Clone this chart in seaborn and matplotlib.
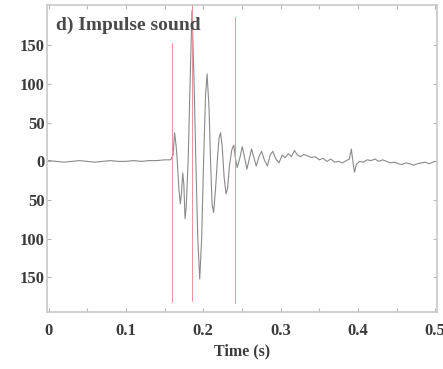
import matplotlib
matplotlib.use("Agg")
import matplotlib.pyplot as plt
import seaborn as sns
import pandas as pd
import numpy as np

# waveform key points
time_s = [0.0, 0.01, 0.02, 0.03, 0.04, 0.05, 0.06, 0.07, 0.08, 0.09, 0.10, 0.11, 0.12,
          0.13, 0.14, 0.15, 0.158, 0.161, 0.163, 0.165, 0.1665, 0.1685, 0.1705, 0.172,
          0.1735, 0.175, 0.1765, 0.178, 0.1805, 0.183, 0.1855, 0.188, 0.1905, 0.193,
          0.1955, 0.198, 0.2005, 0.203, 0.205, 0.2075, 0.2095, 0.2115, 0.2135, 0.216,
          0.2185, 0.2205, 0.2225, 0.2245, 0.227, 0.2295, 0.2315, 0.234, 0.237, 0.2395,
          0.2415, 0.244, 0.2475, 0.2505, 0.2535, 0.2565, 0.2595, 0.2625, 0.2655, 0.2685,
          0.272, 0.2755, 0.279, 0.283, 0.2865, 0.29, 0.294, 0.298, 0.302, 0.306, 0.31,
          0.314, 0.318, 0.322, 0.326, 0.33, 0.335, 0.34, 0.345, 0.35, 0.355, 0.36, 0.365,
          0.37, 0.375, 0.38, 0.385, 0.389, 0.3915, 0.3935, 0.3955, 0.398, 0.402, 0.407,
          0.412, 0.417, 0.422, 0.427, 0.432, 0.437, 0.442, 0.447, 0.452, 0.457, 0.462,
          0.467, 0.472, 0.477, 0.482, 0.487, 0.492, 0.497, 0.5]
amplitude = [1, 0, -1, 0, 1, 0, -1, 0, 1, 0, 0, 1, 0,
             1, 1, 2, 2, 8, 37, 20, 0, -35, -55, -40,
             -15, -30, -74, -60, 0, 100, 195, 110, 0, -100,
             -152, -100, 0, 85, 113, 70, 0, -55, -66, -35,
             5, 30, 37, 20, -20, -42, -35, -5, 15, 21,
             5, -8, 5, 19, 5, -10, 3, 16, 5, -6,
             6, 13, 2, -6, 8, 13, 3, -2, 8, 5, 10,
             6, 14, 8, 6, 9, 7, 5, 6, 2, 4, 0, 3,
             -1, 0, -2, 1, 3, 16, 0, -14, -4, 0, -1,
             2, 1, 3, 0, 2, 0, -2, -1, -3, -4, -2,
             -3, -5, -3, -2, -1, -3, -1, 0]

# red marker lines: position, lower end, upper end
marker_t = [0.160, 0.186, 0.2405]
marker_lo = [-182, -180, -183]
marker_hi = [153, 202, 187]

ytick_vals = [150, 100, 50, 0, -50, -100, -150]
ytick_labels = ["150", "100", "50", "0", "50", "100", "150"]
xtick_vals = [0, 0.1, 0.2, 0.3, 0.4, 0.5]
xtick_labels = ["0", "0.1", "0.2", "0.3", "0.4", "0.5"]

sns.set_theme(style="white")
plt.rcParams["font.family"] = ["Liberation Serif", "DejaVu Serif"]

fig = plt.figure(figsize=(4.43, 3.69), dpi=100)
ax = fig.add_axes([0.106, 0.154, 0.880, 0.832])

df = pd.DataFrame({"t": time_s, "a": amplitude})
sns.lineplot(data=df, x="t", y="a", ax=ax, color="#8a8a8a", linewidth=0.8,
             estimator=None, sort=False)

for t, lo, hi in zip(marker_t, marker_lo, marker_hi):
    ax.plot([t, t], [lo, hi], color="#e8939a", linewidth=0.7, zorder=3)

ax.set_xlim(-0.002, 0.502)
ax.set_ylim(-195, 202)

ax.set_xticks(xtick_vals)
ax.set_xticklabels(xtick_labels)
ax.set_xticks(np.arange(0.05, 0.5, 0.1), minor=True)
ax.set_yticks(ytick_vals)
ax.set_yticklabels(ytick_labels)

ax.tick_params(axis="both", which="both", direction="in", color="#b8b8b8",
               top=True, right=True, bottom=True, left=True)
ax.tick_params(axis="both", which="major", length=3, width=0.8,
               labelsize=12, labelcolor="#3a3a3a")
ax.tick_params(axis="x", which="major", pad=8)
ax.tick_params(axis="y", which="major", pad=1.5)
ax.tick_params(axis="x", which="minor", length=3, width=0.8)
for lab in ax.get_xticklabels() + ax.get_yticklabels():
    lab.set_fontweight("bold")

for sp in ax.spines.values():
    sp.set_color("#c8c8c8")
    sp.set_linewidth(1.2)

ax.set_xlabel("Time (s)", fontsize=11.5, fontweight="bold", color="#3a3a3a", labelpad=3)
ax.set_ylabel("")
ax.text(0.022, 0.935, "d) Impulse sound", transform=ax.transAxes, fontsize=14,
        fontweight="bold", color="#4a4a4a", ha="left", va="center")

fig.savefig("out.png", dpi=100)
